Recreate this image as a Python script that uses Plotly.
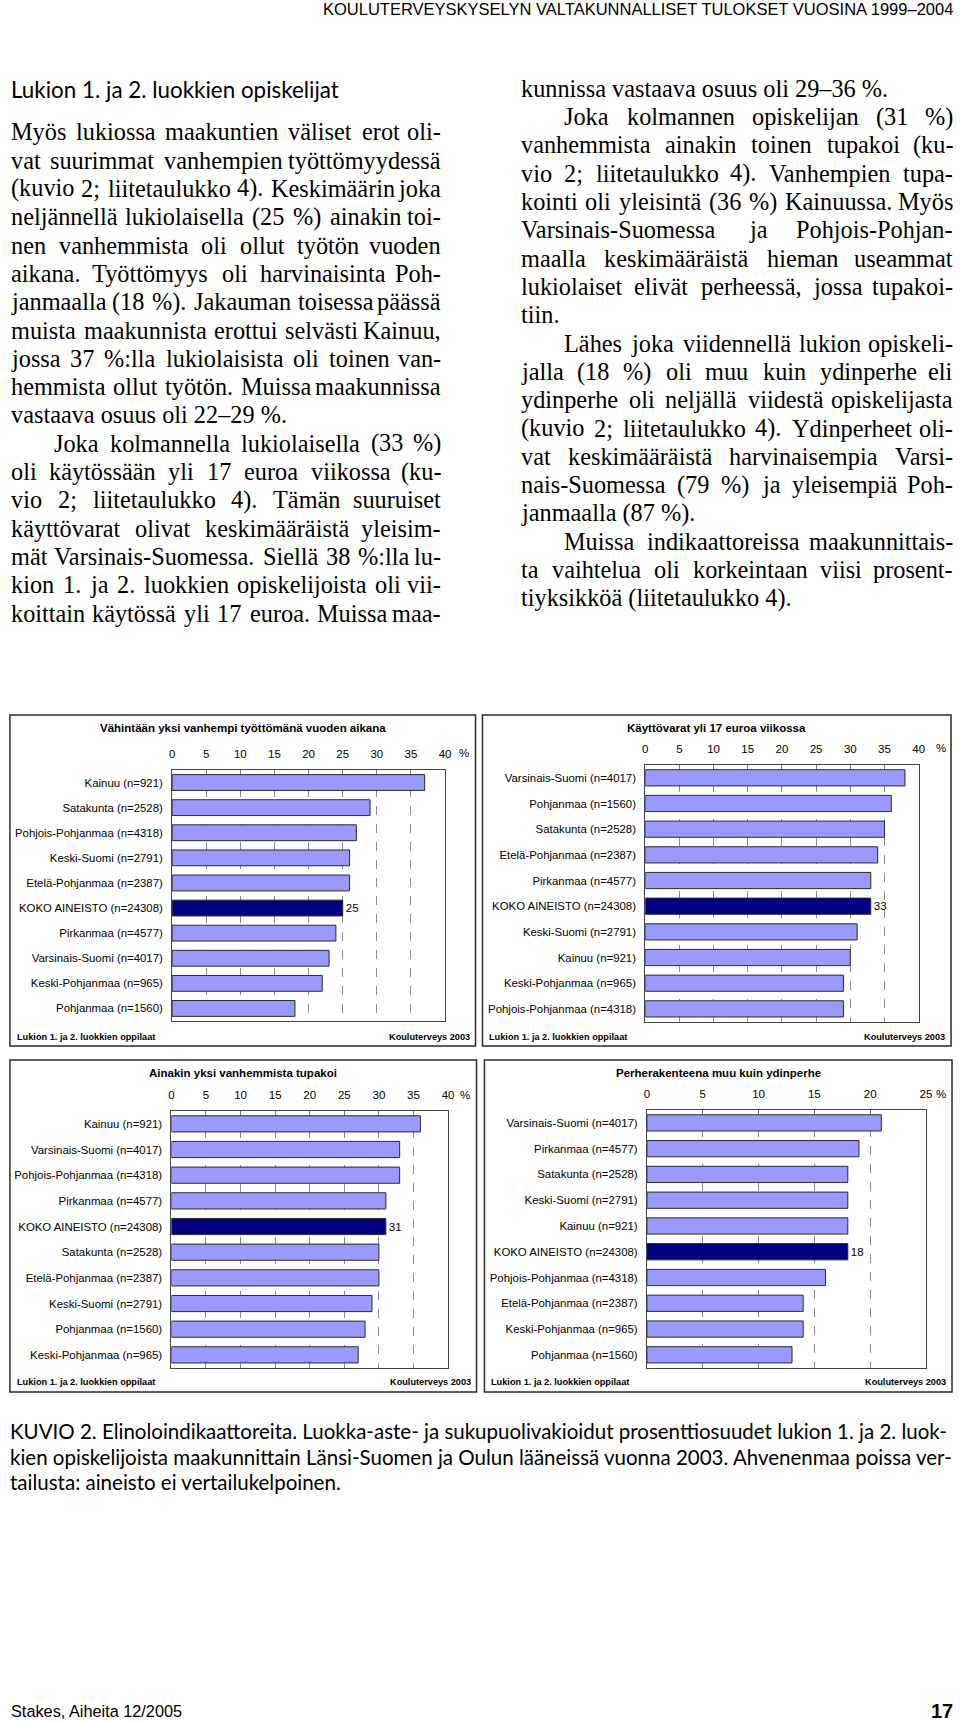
import plotly.graph_objects as go

W, H = 960, 1722

# ---------------- data ----------------
c1_title = "Vähintään yksi vanhempi työttömänä vuoden aikana"
c1_labels = ["Kainuu (n=921)", "Satakunta (n=2528)", "Pohjois-Pohjanmaa (n=4318)",
             "Keski-Suomi (n=2791)", "Etelä-Pohjanmaa (n=2387)", "KOKO AINEISTO (n=24308)",
             "Pirkanmaa (n=4577)", "Varsinais-Suomi (n=4017)", "Keski-Pohjanmaa (n=965)",
             "Pohjanmaa (n=1560)"]
c1_values = [37, 29, 27, 26, 26, 25, 24, 23, 22, 18]

c2_title = "Käyttövarat yli 17 euroa viikossa"
c2_labels = ["Varsinais-Suomi (n=4017)", "Pohjanmaa (n=1560)", "Satakunta (n=2528)",
             "Etelä-Pohjanmaa (n=2387)", "Pirkanmaa (n=4577)", "KOKO AINEISTO (n=24308)",
             "Keski-Suomi (n=2791)", "Kainuu (n=921)", "Keski-Pohjanmaa (n=965)",
             "Pohjois-Pohjanmaa (n=4318)"]
c2_values = [38, 36, 35, 34, 33, 33, 31, 30, 29, 29]

c3_title = "Ainakin yksi vanhemmista tupakoi"
c3_labels = ["Kainuu (n=921)", "Varsinais-Suomi (n=4017)", "Pohjois-Pohjanmaa (n=4318)",
             "Pirkanmaa (n=4577)", "KOKO AINEISTO (n=24308)", "Satakunta (n=2528)",
             "Etelä-Pohjanmaa (n=2387)", "Keski-Suomi (n=2791)", "Pohjanmaa (n=1560)",
             "Keski-Pohjanmaa (n=965)"]
c3_values = [36, 33, 33, 31, 31, 30, 30, 29, 28, 27]

c4_title = "Perherakenteena muu kuin ydinperhe"
c4_labels = ["Varsinais-Suomi (n=4017)", "Pirkanmaa (n=4577)", "Satakunta (n=2528)",
             "Keski-Suomi (n=2791)", "Kainuu (n=921)", "KOKO AINEISTO (n=24308)",
             "Pohjois-Pohjanmaa (n=4318)", "Etelä-Pohjanmaa (n=2387)", "Keski-Pohjanmaa (n=965)",
             "Pohjanmaa (n=1560)"]
c4_values = [21, 19, 18, 18, 18, 18, 16, 14, 14, 13]

ticks_40 = [0, 5, 10, 15, 20, 25, 30, 35, 40]
ticks_25 = [0, 5, 10, 15, 20, 25]

footer_left = "Lukion 1. ja 2. luokkien oppilaat"
footer_right = "Kouluterveys 2003"

# ---------------- page text ----------------
header_text = "KOULUTERVEYSKYSELYN VALTAKUNNALLISET TULOKSET VUOSINA 1999–2004"
heading_text = "Lukion 1. ja 2. luokkien opiskelijat"

# (text, indent, last-line-of-paragraph)
left_lines = [
    ("Myös lukiossa maakuntien väliset erot oli-", False, False),
    ("vat suurimmat vanhempien työttömyydessä", False, False),
    ("(kuvio 2; liitetaulukko 4). Keskimäärin joka", False, False),
    ("neljännellä lukiolaisella (25 %) ainakin toi-", False, False),
    ("nen vanhemmista oli ollut työtön vuoden", False, False),
    ("aikana. Työttömyys oli harvinaisinta Poh-", False, False),
    ("janmaalla (18 %). Jakauman toisessa päässä", False, False),
    ("muista maakunnista erottui selvästi Kainuu,", False, False),
    ("jossa 37 %:lla lukiolaisista oli toinen van-", False, False),
    ("hemmista ollut työtön. Muissa maakunnissa", False, False),
    ("vastaava osuus oli 22–29 %.", False, True),
    ("Joka kolmannella lukiolaisella (33 %)", True, False),
    ("oli käytössään yli 17 euroa viikossa (ku-", False, False),
    ("vio 2; liitetaulukko 4). Tämän suuruiset", False, False),
    ("käyttövarat olivat keskimääräistä yleisim-", False, False),
    ("mät Varsinais-Suomessa. Siellä 38 %:lla lu-", False, False),
    ("kion 1. ja 2. luokkien opiskelijoista oli vii-", False, False),
    ("koittain käytössä yli 17 euroa. Muissa maa-", False, False),
]
right_lines = [
    ("kunnissa vastaava osuus oli 29–36 %.", False, True),
    ("Joka kolmannen opiskelijan (31 %)", True, False),
    ("vanhemmista ainakin toinen tupakoi (ku-", False, False),
    ("vio 2; liitetaulukko 4). Vanhempien tupa-", False, False),
    ("kointi oli yleisintä (36 %) Kainuussa. Myös", False, False),
    ("Varsinais-Suomessa ja Pohjois-Pohjan-", False, False),
    ("maalla keskimääräistä hieman useammat", False, False),
    ("lukiolaiset elivät perheessä, jossa tupakoi-", False, False),
    ("tiin.", False, True),
    ("Lähes joka viidennellä lukion opiskeli-", True, False),
    ("jalla (18 %) oli muu kuin ydinperhe eli", False, False),
    ("ydinperhe oli neljällä viidestä opiskelijasta", False, False),
    ("(kuvio 2; liitetaulukko 4). Ydinperheet oli-", False, False),
    ("vat keskimääräistä harvinaisempia Varsi-", False, False),
    ("nais-Suomessa (79 %) ja yleisempiä Poh-", False, False),
    ("janmaalla (87 %).", False, True),
    ("Muissa indikaattoreissa maakunnittais-", True, False),
    ("ta vaihtelua oli korkeintaan viisi prosent-", False, False),
    ("tiyksikköä (liitetaulukko 4).", False, True),
]
caption_lines = [
    "KUVIO 2. Elinoloindikaattoreita. Luokka-aste- ja sukupuolivakioidut prosenttiosuudet lukion 1. ja 2. luok-",
    "kien opiskelijoista maakunnittain Länsi-Suomen ja Oulun lääneissä vuonna 2003. Ahvenenmaa poissa ver-",
    "tailusta: aineisto ei vertailukelpoinen.",
]
page_footer_left = "Stakes, Aiheita 12/2005"
page_number = "17"

# ---------------- helpers ----------------
SERIF = "Liberation Serif, Times New Roman, serif"
SANS = "Liberation Sans, Arial, sans-serif"
GILL = "Lato, Open Sans, sans-serif"

TIMES = {}
for ch, w in zip("abcdefghijklmnopqrstuvwxyz",
                 [.444, .5, .444, .5, .444, .333, .5, .5, .278, .278, .5, .278, .778,
                  .5, .5, .5, .5, .333, .389, .278, .5, .5, .722, .5, .5, .444]):
    TIMES[ch] = w
for ch, w in zip("ABCDEFGHIJKLMNOPQRSTUVWXYZ",
                 [.722, .667, .667, .722, .611, .556, .722, .722, .333, .389, .722, .611, .889,
                  .722, .722, .556, .722, .667, .556, .611, .722, .722, .944, .722, .722, .611]):
    TIMES[ch] = w
TIMES.update({"ä": .444, "ö": .5, "å": .444, "Ä": .722, "Ö": .722, " ": .25,
              "(": .333, ")": .333, "%": .833, ".": .25, ",": .25, ";": .278, ":": .278,
              "-": .333, "–": .5})
for d in "0123456789":
    TIMES[d] = .5


def tw(s, size):
    return sum(TIMES.get(c, .5) for c in s) * size


def px(x):
    return x / W


def py(y):
    return 1 - y / H


annotations = []


def ann(text, x, y, size, family, xanchor="left", weight="normal", color="black"):
    annotations.append(dict(text=text, x=px(x), y=py(y), xref="paper", yref="paper",
                            showarrow=False, xanchor=xanchor, yanchor="middle",
                            borderpad=0, font=dict(size=size, family=family,
                                                   color=color, weight=weight)))


BODY_SIZE = 24.3
LINE_H = 28.33
INDENT = 44


def column(lines, x0, x1, y0):
    for i, (text, indent, last) in enumerate(lines):
        y = y0 + i * LINE_H
        xs = x0 + (INDENT if indent else 0)
        words = text.split(" ")
        if last or len(words) == 1:
            ann(text, xs, y, BODY_SIZE, SERIF)
            continue
        widths = [tw(w, BODY_SIZE) for w in words]
        gap = (x1 - xs - sum(widths)) / (len(words) - 1)
        cx = xs
        for j, w in enumerate(words):
            if j == len(words) - 1:
                ann(w, x1, y, BODY_SIZE, SERIF, xanchor="right")
            else:
                ann(w, cx, y, BODY_SIZE, SERIF)
            cx += widths[j] + gap


# ---------------- figure ----------------
fig = go.Figure()

charts = [
    dict(title=c1_title, labels=c1_labels, values=c1_values, ticks=ticks_40,
         box=(7, 715, 477, 1046), plot=(170.7, 770, 446.3, 1021), title_y=728,
         pct=(465, 753), foot_y=1036.5),
    dict(title=c2_title, labels=c2_labels, values=c2_values, ticks=ticks_40,
         box=(484, 715, 957, 1046), plot=(648.3, 765, 924.3, 1021.7), title_y=728,
         pct=(946.7, 748.3), foot_y=1036.5),
    dict(title=c3_title, labels=c3_labels, values=c3_values, ticks=ticks_40,
         box=(7, 1060, 478, 1392), plot=(170, 1111, 449.3, 1367.7), title_y=1073.3,
         pct=(466.7, 1094.5), foot_y=1381.7),
    dict(title=c4_title, labels=c4_labels, values=c4_values, ticks=ticks_25,
         box=(486, 1060, 958, 1392), plot=(650, 1110, 931.7, 1367.7), title_y=1072.7,
         pct=(946.7, 1093.5), foot_y=1381.7),
]

shapes = []
layout_axes = {}
for i, c in enumerate(charts, start=1):
    colors = ["#000080" if lab.startswith("KOKO") else "#9999FF" for lab in c["labels"]]
    texts = [str(v) if lab.startswith("KOKO") else "" for lab, v in zip(c["labels"], c["values"])]
    fig.add_trace(go.Bar(
        x=c["values"], y=c["labels"], orientation="h",
        marker=dict(color=colors, line=dict(color="#2a2a2a", width=1)),
        text=texts, textposition="outside", cliponaxis=False,
        textfont=dict(size=11.5, family=SANS, color="black"),
        xaxis=f"x{i}", yaxis=f"y{i}", hoverinfo="skip",
    ))
    x0, y0, x1, y1 = c["plot"]
    sfx = "" if i == 1 else str(i)
    layout_axes[f"xaxis{sfx}"] = dict(
        domain=[px(x0), px(x1)], anchor=f"y{i}", side="top",
        range=[0, c["ticks"][-1]], tickvals=c["ticks"],
        ticks="inside", ticklen=4, tickcolor="#777777",
        showline=True, mirror=True, linecolor="#444444", linewidth=1,
        showgrid=True, gridcolor="#8a8a8a", griddash="dash", gridwidth=1,
        zeroline=False, ticklabelstandoff=6,
        tickfont=dict(size=11.5, family=SANS, color="black"), fixedrange=True,
    )
    layout_axes[f"yaxis{sfx}"] = dict(
        domain=[py(y1), py(y0)], anchor=f"x{i}",
        categoryorder="array", categoryarray=c["labels"], autorange="reversed",
        showline=True, mirror=True, linecolor="#444444", linewidth=1,
        showgrid=False, ticks="", ticklabelstandoff=6, zeroline=False,
        tickfont=dict(size=11.4, family=SANS, color="black"), fixedrange=True,
    )
    bx0, by0, bx1, by1 = c["box"]
    shapes.append(dict(type="rect", xref="paper", yref="paper",
                       x0=px(bx0), x1=px(bx1), y0=py(by1), y1=py(by0),
                       line=dict(color="#2a2a2a", width=1.5), fillcolor="rgba(0,0,0,0)"))
    ann(c["title"], (bx0 + bx1) / 2, c["title_y"], 11.5, SANS, xanchor="center", weight="bold")
    ann("%", c["pct"][0], c["pct"][1], 11.5, SANS, xanchor="center")
    ann(footer_left, bx0 + 6, c["foot_y"], 9.2, SANS, weight="bold")
    ann(footer_right, bx1 - 5, c["foot_y"], 9.2, SANS, xanchor="right", weight="bold")

# page text
ann(header_text, 959.5, 9, 16.5, SANS, xanchor="right")
ann(heading_text, 6.7, 89, 22.4, GILL)
column(left_lines, 6.7, 443.3, 131.7)
column(right_lines, 521.7, 959.5, 88.3)
for k, line in enumerate(caption_lines):
    ann(line, 6, 1431 + k * 25.5, 20.5, GILL)
ann(page_footer_left, 6.7, 1711, 16.3, SANS)
ann(page_number, 959.5, 1711, 20, SANS, xanchor="right", weight="bold")

fig.update_layout(
    width=W, height=H, margin=dict(l=0, r=0, t=0, b=0),
    paper_bgcolor="white", plot_bgcolor="white", showlegend=False,
    bargap=0.37, annotations=annotations, shapes=shapes, **layout_axes,
)

fig.write_html(
    "out.html",
    config={"displayModeBar": False},
    post_script="document.body.style.margin='0';document.body.style.overflow='hidden';",
)
